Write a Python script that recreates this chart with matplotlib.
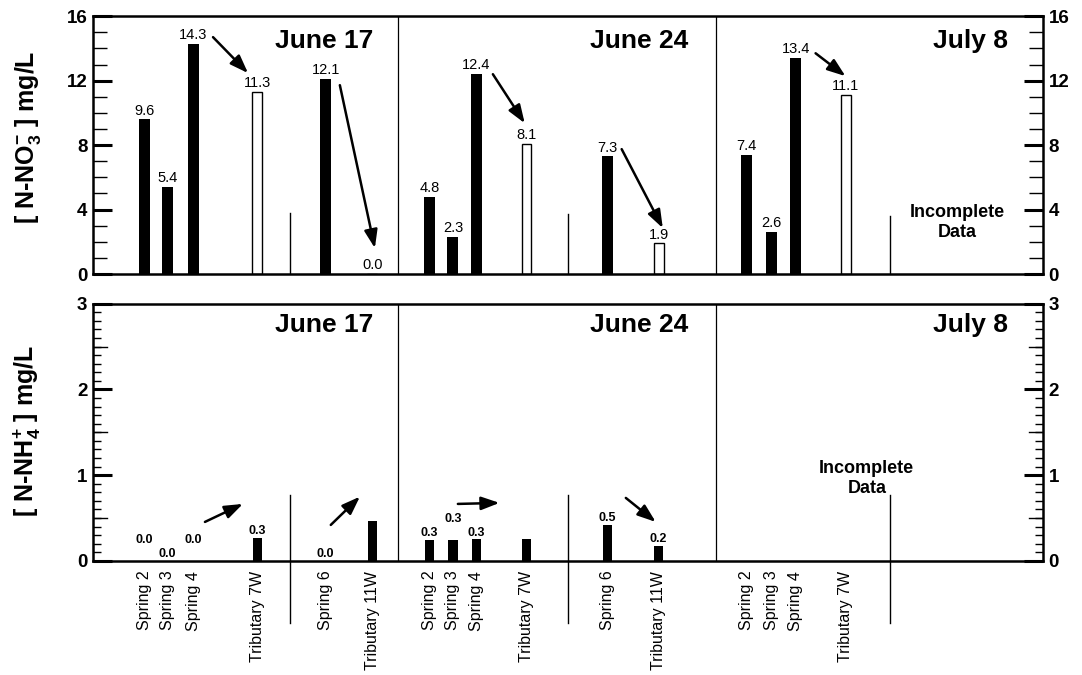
import matplotlib
matplotlib.use("Agg")
import matplotlib.pyplot as plt
from matplotlib.ticker import MultipleLocator

plt.rcParams['font.family'] = ['Liberation Sans', 'DejaVu Sans']
plt.rcParams['mathtext.fontset'] = 'custom'
plt.rcParams['mathtext.rm'] = 'Liberation Sans:bold'
plt.rcParams['mathtext.bf'] = 'Liberation Sans:bold'

# ---- data ----
dates = ["June 17", "June 24", "July 8"]
sites = [["Spring 2", "Spring 3", "Spring 4", "Tributary 7W", "Spring 6", "Tributary 11W"],
         ["Spring 2", "Spring 3", "Spring 4", "Tributary 7W", "Spring 6", "Tributary 11W"],
         ["Spring 2", "Spring 3", "Spring 4", "Tributary 7W"]]
no3 = [[9.6, 5.4, 14.3, 11.3, 12.1, 0.0],
       [4.8, 2.3, 12.4, 8.1, 7.3, 1.9],
       [7.4, 2.6, 13.4, 11.1]]
nh4 = [[0.0, 0.0, 0.0, 0.27, 0.0, 0.47],
       [0.245, 0.245, 0.25, 0.26, 0.42, 0.17],
       []]
nh4_labels = [["0.0", "0.0", "0.0", "0.3", "0.0", ""],
              ["0.3", "0.3", "0.3", "", "0.5", "0.2"],
              []]

# ---- layout ----
xpos = [[2.1, 3.05, 4.1, 6.7, 9.5, 11.4],
        [13.75, 14.7, 15.65, 17.7, 21.0, 23.1],
        [26.7, 27.7, 28.7, 30.75]]
date_sep = [12.45, 25.45]
group_sep = [8.05, 19.4, 32.55]
group_sep_h = [3.8, 3.7, 3.6]
title_x = [11.45, 24.3, 37.35]
nh4_lift = [[0.165, 0, 0.165, 0, 0, 0], [0, 0.165, 0, 0, 0, 0], []]
arrows_top = [((4.9, 14.7), (6.33, 12.47)), ((10.08, 11.72), (11.51, 1.61)),
              ((16.33, 12.4), (17.63, 9.36)), ((21.59, 7.75), (23.27, 2.85)),
              ((29.51, 13.7), (30.73, 12.28))]
arrows_bot = [((4.57, 0.455), (6.12, 0.665)), ((9.71, 0.42), (10.9, 0.75)),
              ((14.9, 0.665), (16.6, 0.677)), ((21.76, 0.735), (22.98, 0.455))]
XMAX = 38.8

fig = plt.figure(figsize=(10.82, 6.75), dpi=100)
ax1 = fig.add_axes([0.086, 0.594, 0.878, 0.382])
ax2 = fig.add_axes([0.086, 0.169, 0.878, 0.381])

arrow_kw = dict(arrowstyle='-|>,head_length=1.1,head_width=0.4', color='black',
                lw=1.8, shrinkA=0, shrinkB=0)

# ---- top panel: nitrate ----
for d in range(3):
    for x, name, v in zip(xpos[d], sites[d], no3[d]):
        if name.startswith("Tributary"):
            ax1.bar(x, v, width=0.4, color='white', edgecolor='black', lw=1.0)
        else:
            ax1.bar(x, v, width=0.45, color='black')
        ax1.text(x, v + 0.3, f"{v:.1f}", ha='center', va='baseline', fontsize=10.5)
    ax1.plot([group_sep[d]] * 2, [0, group_sep_h[d]], color='black', lw=1)
    ax1.text(title_x[d], 14.45, dates[d], ha='right', va='center',
             fontsize=19, fontweight='bold')
for s in date_sep:
    ax1.axvline(s, color='black', lw=0.9)
for a, b in arrows_top:
    ax1.annotate('', xy=b, xytext=a, arrowprops=arrow_kw)
ax1.text(35.3, 3.2, "Incomplete\nData", ha='center', va='center',
         fontsize=13, fontweight='bold', linespacing=1.2)

ax1.set_xlim(0, XMAX)
ax1.set_ylim(0, 16)
ax1.yaxis.set_major_locator(MultipleLocator(4))
ax1.yaxis.set_minor_locator(MultipleLocator(1))
ax1.set_xticks([])
ax1.set_ylabel(r'[ N-NO$_{\mathbf{3}}^{\mathbf{-}}$ ] mg/L', fontsize=18, fontweight='bold')
ax1.yaxis.set_label_coords(-0.053, 0.53)

# ---- bottom panel: ammonium ----
for d in range(3):
    for x, v, lab, lift in zip(xpos[d], nh4[d], nh4_labels[d], nh4_lift[d]):
        ax2.bar(x, v, width=0.37, color='black')
        if lab:
            ax2.text(x, v + 0.045 + lift, lab, ha='center', va='baseline',
                     fontsize=9, fontweight='bold')
    ax2.plot([group_sep[d]] * 2, [-0.72, 0.77], color='black', lw=1, clip_on=False)
    ax2.text(title_x[d], 2.75, dates[d], ha='right', va='center',
             fontsize=19, fontweight='bold')
for s in date_sep:
    ax2.axvline(s, color='black', lw=0.9)
for a, b in arrows_bot:
    ax2.annotate('', xy=b, xytext=a, arrowprops=arrow_kw)
ax2.text(31.6, 0.96, "Incomplete\nData", ha='center', va='center',
         fontsize=13, fontweight='bold', linespacing=1.2)

ax2.set_xlim(0, XMAX)
ax2.set_ylim(0, 3)
ax2.yaxis.set_major_locator(MultipleLocator(1))
ax2.yaxis.set_minor_locator(MultipleLocator(0.1))
all_x = [x for grp in xpos for x in grp]
all_names = [n for grp in sites for n in grp]
ax2.set_xticks(all_x)
ax2.set_xticklabels(all_names, rotation=90, va='top', ha='center', fontsize=11.5)
ax2.tick_params(axis='x', length=0, pad=7)
ax2.set_ylabel(r'[ N-NH$_{\mathbf{4}}^{\mathbf{+}}$ ] mg/L', fontsize=18, fontweight='bold')
ax2.yaxis.set_label_coords(-0.053, 0.506)
# half-unit ticks, a bit longer than the minor ones
for yv in [0.5, 1.5, 2.5]:
    ax2.plot([0, 0.015], [yv, yv], color='black', lw=1, transform=ax2.get_yaxis_transform())
    ax2.plot([0.985, 1], [yv, yv], color='black', lw=1, transform=ax2.get_yaxis_transform())

for ax in (ax1, ax2):
    ax.tick_params(axis='y', which='both', direction='in', left=True, right=True,
                   labelleft=True, labelright=True, pad=4)
    ax.tick_params(axis='y', which='major', length=14, width=2.2, labelsize=13.5)
    ax.tick_params(axis='y', which='minor', length=10, width=1)
    for lab in ax.get_yticklabels():
        lab.set_fontweight('bold')
    for sp in ax.spines.values():
        sp.set_linewidth(1.8)
ax2.tick_params(axis='y', which='minor', length=5.8)

fig.savefig('out.png', dpi=100)
